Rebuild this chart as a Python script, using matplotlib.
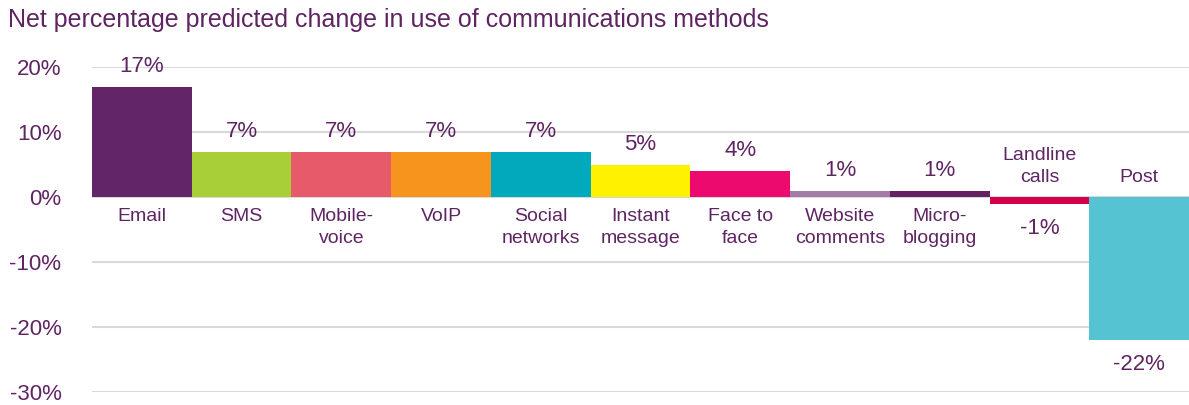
import matplotlib
matplotlib.use("Agg")
import matplotlib.pyplot as plt

categories = ["Email", "SMS", "Mobile-\nvoice", "VoIP", "Social\nnetworks", "Instant\nmessage",
              "Face to\nface", "Website\ncomments", "Micro-\nblogging", "Landline\ncalls", "Post"]
values = [17, 7, 7, 7, 7, 5, 4, 1, 1, -1, -22]
colors = ["#622567", "#A8CF38", "#E75A6A", "#F7941D", "#00A9BC", "#FFF100",
          "#EC0A6F", "#A47AA6", "#63215F", "#D4004B", "#55C3D1"]
yticks = [-30, -20, -10, 0, 10, 20]

TXT = "#5F2462"
plt.rcParams['font.family'] = ['Liberation Sans', 'DejaVu Sans']

fig = plt.figure(figsize=(11.89, 4.05), dpi=100)
ax = fig.add_axes([92 / 1189, 1 - 392 / 405, 1 - 92 / 1189, (392 - 67) / 405])

x = list(range(len(values)))
ax.bar(x, values, width=1.0, color=colors, zorder=3)
ax.set_xlim(-0.5, len(values) - 0.5)
ax.set_ylim(-30, 20)
ax.set_yticks(yticks)
ax.set_yticklabels([f"{v}%" for v in yticks], color=TXT, fontsize=16)
ax.tick_params(axis='y', length=0, pad=22)
ax.set_xticks([])
ax.grid(axis='y', color='#D9D9D9', linewidth=1.5, zorder=0)
for s in ax.spines.values():
    s.set_visible(False)

for xi, v, c in zip(x, values, categories):
    if v >= 0:
        ax.annotate(f"{v}%", (xi, v), xytext=(0, 14.5), textcoords='offset points',
                    ha='center', va='center', color=TXT, fontsize=16)
        ax.annotate(c, (xi, 0), xytext=(0, -8), textcoords='offset points',
                    ha='center', va='top', color=TXT, fontsize=14, linespacing=1.4)
    else:
        ax.annotate(f"{v}%", (xi, v), xytext=(0, -18), textcoords='offset points',
                    ha='center', va='center', color=TXT, fontsize=16)
        ax.annotate(c, (xi, 0), xytext=(0, 8), textcoords='offset points',
                    ha='center', va='bottom', color=TXT, fontsize=14, linespacing=1.4)

fig.text(8 / 1189, 1 - 20 / 405, "Net percentage predicted change in use of communications methods",
         color=TXT, fontsize=18, ha='left', va='center')

fig.savefig("out.png", dpi=100)
